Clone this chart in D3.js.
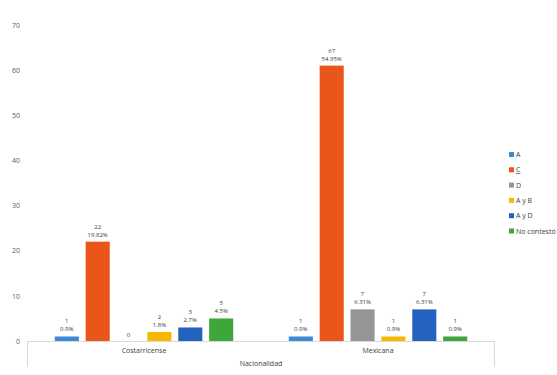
<!DOCTYPE html>
<html>
<head>
<meta charset="utf-8">
<script src="https://cdn.jsdelivr.net/npm/d3@7"></script>
<style>
  body { margin: 0; background: #fff; }
  text { font-family: "Open Sans", "Liberation Sans", sans-serif; }
</style>
</head>
<body>
<div id="chart"></div>
<script>
// Data
const groups = ["Costarricense", "Mexicana"]
const series = ["A", "C", "D", "A y B", "A y D", "No contestó"]
const colors = ["#3d8ad6", "#ea5519", "#959595", "#f6b900", "#2462bf", "#3ea63b"]
// bar heights as drawn in the picture (the 67 bar only reaches ~61 there)
const costarricense = [1, 22, 0, 2, 3, 5]
const mexicana = [1, 61, 7, 1, 7, 1]
// printed labels
const countCostarricense = ["1", "22", "0", "2", "3", "5"]
const countMexicana = ["1", "67", "7", "1", "7", "1"]
const pctCostarricense = ["0.9%", "19.82%", "", "1.8%", "2.7%", "4.5%"]
const pctMexicana = ["0.9%", "54.95%", "6.31%", "0.9%", "6.31%", "0.9%"]
const yTicks = [0, 10, 20, 30, 40, 50, 60, 70]

const values = [costarricense, mexicana]
const counts = [countCostarricense, countMexicana]
const pcts = [pctCostarricense, pctMexicana]

// Dimensions
let dimensions = {
    width: 557,
    height: 375,
    margin: { top: 25, right: 62, bottom: 34, left: 27 },
}
dimensions.boundedWidth = dimensions.width - dimensions.margin.left - dimensions.margin.right
dimensions.boundedHeight = dimensions.height - dimensions.margin.top - dimensions.margin.bottom

const svg = d3.select("#chart")
    .append("svg")
        .attr("width", dimensions.width)
        .attr("height", dimensions.height)

const bounds = svg.append("g")
    .attr("transform", `translate(${dimensions.margin.left},${dimensions.margin.top})`)

// Scales
const yScale = d3.scaleLinear()
    .domain([0, 70])
    .range([dimensions.boundedHeight, 0])

const x0 = d3.scaleBand()
    .domain(groups)
    .range([0, dimensions.boundedWidth])
    .paddingInner(0)
    .paddingOuter(0)

const x1 = d3.scaleBand()
    .domain(series)
    .range([0, x0.bandwidth()])
    .paddingInner(0.22)
    .paddingOuter(0.9)

// Y axis (labels only)
const yAxis = bounds.append("g")
    .call(d3.axisLeft(yScale).tickValues(yTicks).tickSize(0).tickPadding(7))
yAxis.select(".domain").remove()
yAxis.selectAll("text")
    .attr("fill", "#595959")
    .style("font-size", "7px")

// Bars
const groupG = bounds.selectAll(".group")
    .data(groups)
    .join("g")
        .attr("transform", d => `translate(${x0(d)},0)`)

groupG.each(function(g, gi) {
    const rows = series.map((s, i) => ({ s, i, v: values[gi][i], c: counts[gi][i], p: pcts[gi][i] }))
    const gSel = d3.select(this)
    gSel.selectAll("rect")
        .data(rows)
        .join("rect")
            .attr("x", d => x1(d.s))
            .attr("width", x1.bandwidth())
            .attr("y", d => yScale(d.v))
            .attr("height", d => yScale(0) - yScale(d.v))
            .attr("fill", d => colors[d.i])

    const lbl = gSel.selectAll(".lbl")
        .data(rows)
        .join("text")
            .attr("class", "lbl")
            .attr("x", d => x1(d.s) + x1.bandwidth() / 2)
            .attr("y", d => yScale(d.v) - (d.p ? 13 : 4))
            .attr("text-anchor", "middle")
            .attr("fill", "#404040")
            .style("font-size", "6px")
    lbl.append("tspan")
        .text(d => d.c)
    lbl.append("tspan")
        .attr("x", d => x1(d.s) + x1.bandwidth() / 2)
        .attr("dy", 8)
        .text(d => d.p)
})

// X axis frame
const frame = bounds.append("g")
    .attr("stroke", "#d9d9d9")
    .attr("stroke-width", 1)
frame.append("line")
    .attr("x1", 0).attr("x2", dimensions.boundedWidth)
    .attr("y1", yScale(0) + 0.5).attr("y2", yScale(0) + 0.5)
frame.append("line")
    .attr("x1", 0.5).attr("x2", 0.5)
    .attr("y1", yScale(0)).attr("y2", yScale(0) + 26)
frame.append("line")
    .attr("x1", dimensions.boundedWidth - 0.5).attr("x2", dimensions.boundedWidth - 0.5)
    .attr("y1", yScale(0)).attr("y2", yScale(0) + 26)

bounds.selectAll(".catLabel")
    .data(groups)
    .join("text")
        .attr("class", "catLabel")
        .attr("x", d => x0(d) + x0.bandwidth() / 2)
        .attr("y", yScale(0) + 12)
        .attr("text-anchor", "middle")
        .attr("fill", "#404040")
        .style("font-size", "7px")
        .text(d => d)

bounds.append("text")
    .attr("x", dimensions.boundedWidth / 2)
    .attr("y", yScale(0) + 25)
    .attr("text-anchor", "middle")
    .attr("fill", "#404040")
    .style("font-size", "7px")
    .text("Nacionalidad")

// Legend
const legend = svg.append("g")
    .attr("transform", "translate(509,152)")
const item = legend.selectAll("g")
    .data(series)
    .join("g")
        .attr("transform", (d, i) => `translate(0,${i * 15.3})`)
item.append("rect")
    .attr("width", 5)
    .attr("height", 5)
    .attr("fill", (d, i) => colors[i])
item.append("text")
    .attr("x", 7)
    .attr("y", 5)
    .attr("fill", "#404040")
    .style("font-size", "7px")
    .style("text-decoration", d => d === "C" ? "underline" : null)
    .text(d => d)
</script>
</body>
</html>
